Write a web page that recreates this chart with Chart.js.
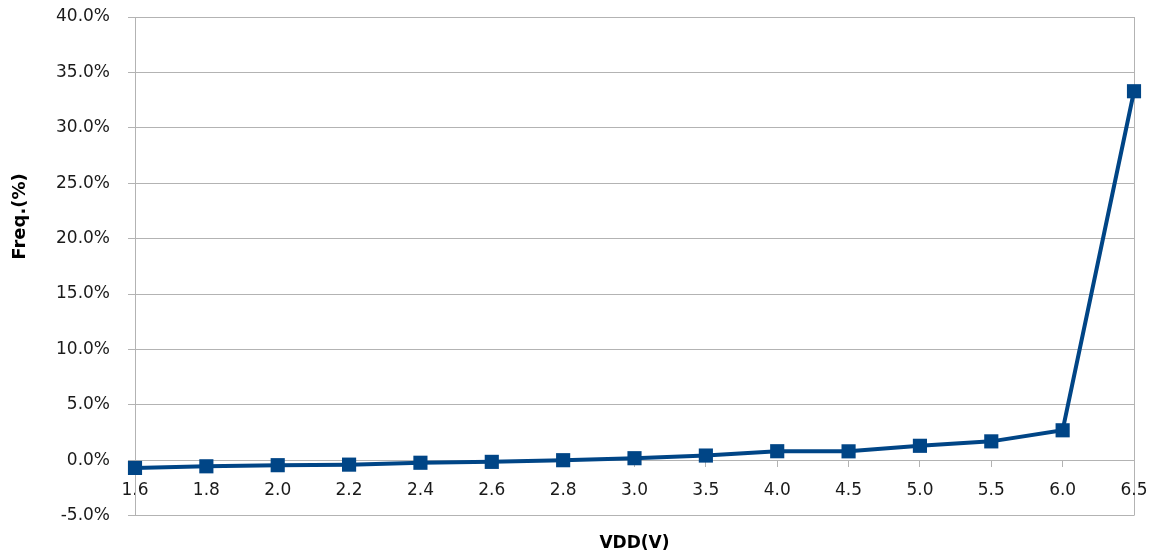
<!DOCTYPE html>
<html>
<head>
<meta charset="utf-8">
<script src="https://cdn.jsdelivr.net/npm/chart.js@4"></script>
<style>
  html, body { margin: 0; padding: 0; background: #fff; }
  #wrap { width: 1151px; height: 560px; }
</style>
</head>
<body>
<div id="wrap"><canvas id="myChart"></canvas></div>
<script>
// dados do grafico
const vdd = ['1.6', '1.8', '2.0', '2.2', '2.4', '2.6', '2.8', '3.0', '3.5', '4.0', '4.5', '5.0', '5.5', '6.0', '6.5'];
const freq = [-0.7, -0.55, -0.45, -0.4, -0.23, -0.15, 0.0, 0.18, 0.42, 0.81, 0.8, 1.3, 1.7, 2.7, 33.3];
const yTicks = [-5, 0, 5, 10, 15, 20, 25, 30, 35, 40];
const xTitle = 'VDD(V)';
const yTitle = 'Freq.(%)';

const gray = '#b3b3b3';
const blue = '#004586';
const fam = '"DejaVu Sans", sans-serif';

// titulo do eixo y desenhado a mao (fica acima do centro no original)
const yTitlePlugin = {
  id: 'yTitle',
  afterDraw(chart) {
    const { ctx, chartArea } = chart;
    ctx.save();
    ctx.translate(20, chartArea.top + (chartArea.bottom - chartArea.top) * 0.4);
    ctx.rotate(-Math.PI / 2);
    ctx.font = 'bold 18px ' + fam;
    ctx.fillStyle = '#000';
    ctx.textAlign = 'center';
    ctx.textBaseline = 'middle';
    ctx.fillText(yTitle, 0, 0);
    ctx.restore();
  }
};

const ctx = document.getElementById('myChart');

new Chart(ctx, {
  type: 'line',
  data: {
    labels: vdd,
    datasets: [{
      data: freq,
      borderColor: blue,
      backgroundColor: blue,
      borderWidth: 4,
      tension: 0,
      pointStyle: 'rect',
      pointRadius: 10,
      pointHoverRadius: 10,
      pointBorderWidth: 0,
      clip: false
    }]
  },
  options: {
    responsive: true,
    maintainAspectRatio: false,
    animation: false,
    layout: { autoPadding: false, padding: { left: 0, right: 17, top: 17, bottom: 0 } },
    scales: {
      x: {
        type: 'category',
        position: { y: 0 },
        offset: false,
        grid: {
          color: (c) => (c.index === 0 || c.index === vdd.length - 1) ? gray : 'rgba(0,0,0,0)',
          tickColor: gray,
          tickLength: 6
        },
        border: { color: gray },
        ticks: {
          padding: 14,
          maxRotation: 0,
          autoSkip: false,
          color: '#1a1a1a',
          font: { family: fam, size: 17 }
        },
        // eixo no zero: nao reserva espaco
        afterFit: (s) => { s.height = 0; s.paddingLeft = 0; s.paddingRight = 0; }
      },
      y: {
        min: yTicks[0],
        max: yTicks[yTicks.length - 1],
        grid: { color: gray, tickLength: 7 },
        border: { color: gray },
        ticks: {
          stepSize: yTicks[1] - yTicks[0],
          padding: 18,
          color: '#1a1a1a',
          font: { family: fam, size: 17 },
          callback: (v) => v.toFixed(1) + '%'
        },
        afterFit: (s) => { s.width = 135; s.paddingTop = 0; s.paddingBottom = 0; }
      }
    },
    plugins: {
      legend: { display: false },
      tooltip: { enabled: false },
      title: {
        display: true,
        text: xTitle,
        position: 'bottom',
        fullSize: false,
        color: '#000',
        font: { family: fam, size: 17, weight: 'bold' },
        padding: { top: 18, bottom: 6 }
      }
    }
  },
  plugins: [yTitlePlugin]
});
</script>
</body>
</html>
